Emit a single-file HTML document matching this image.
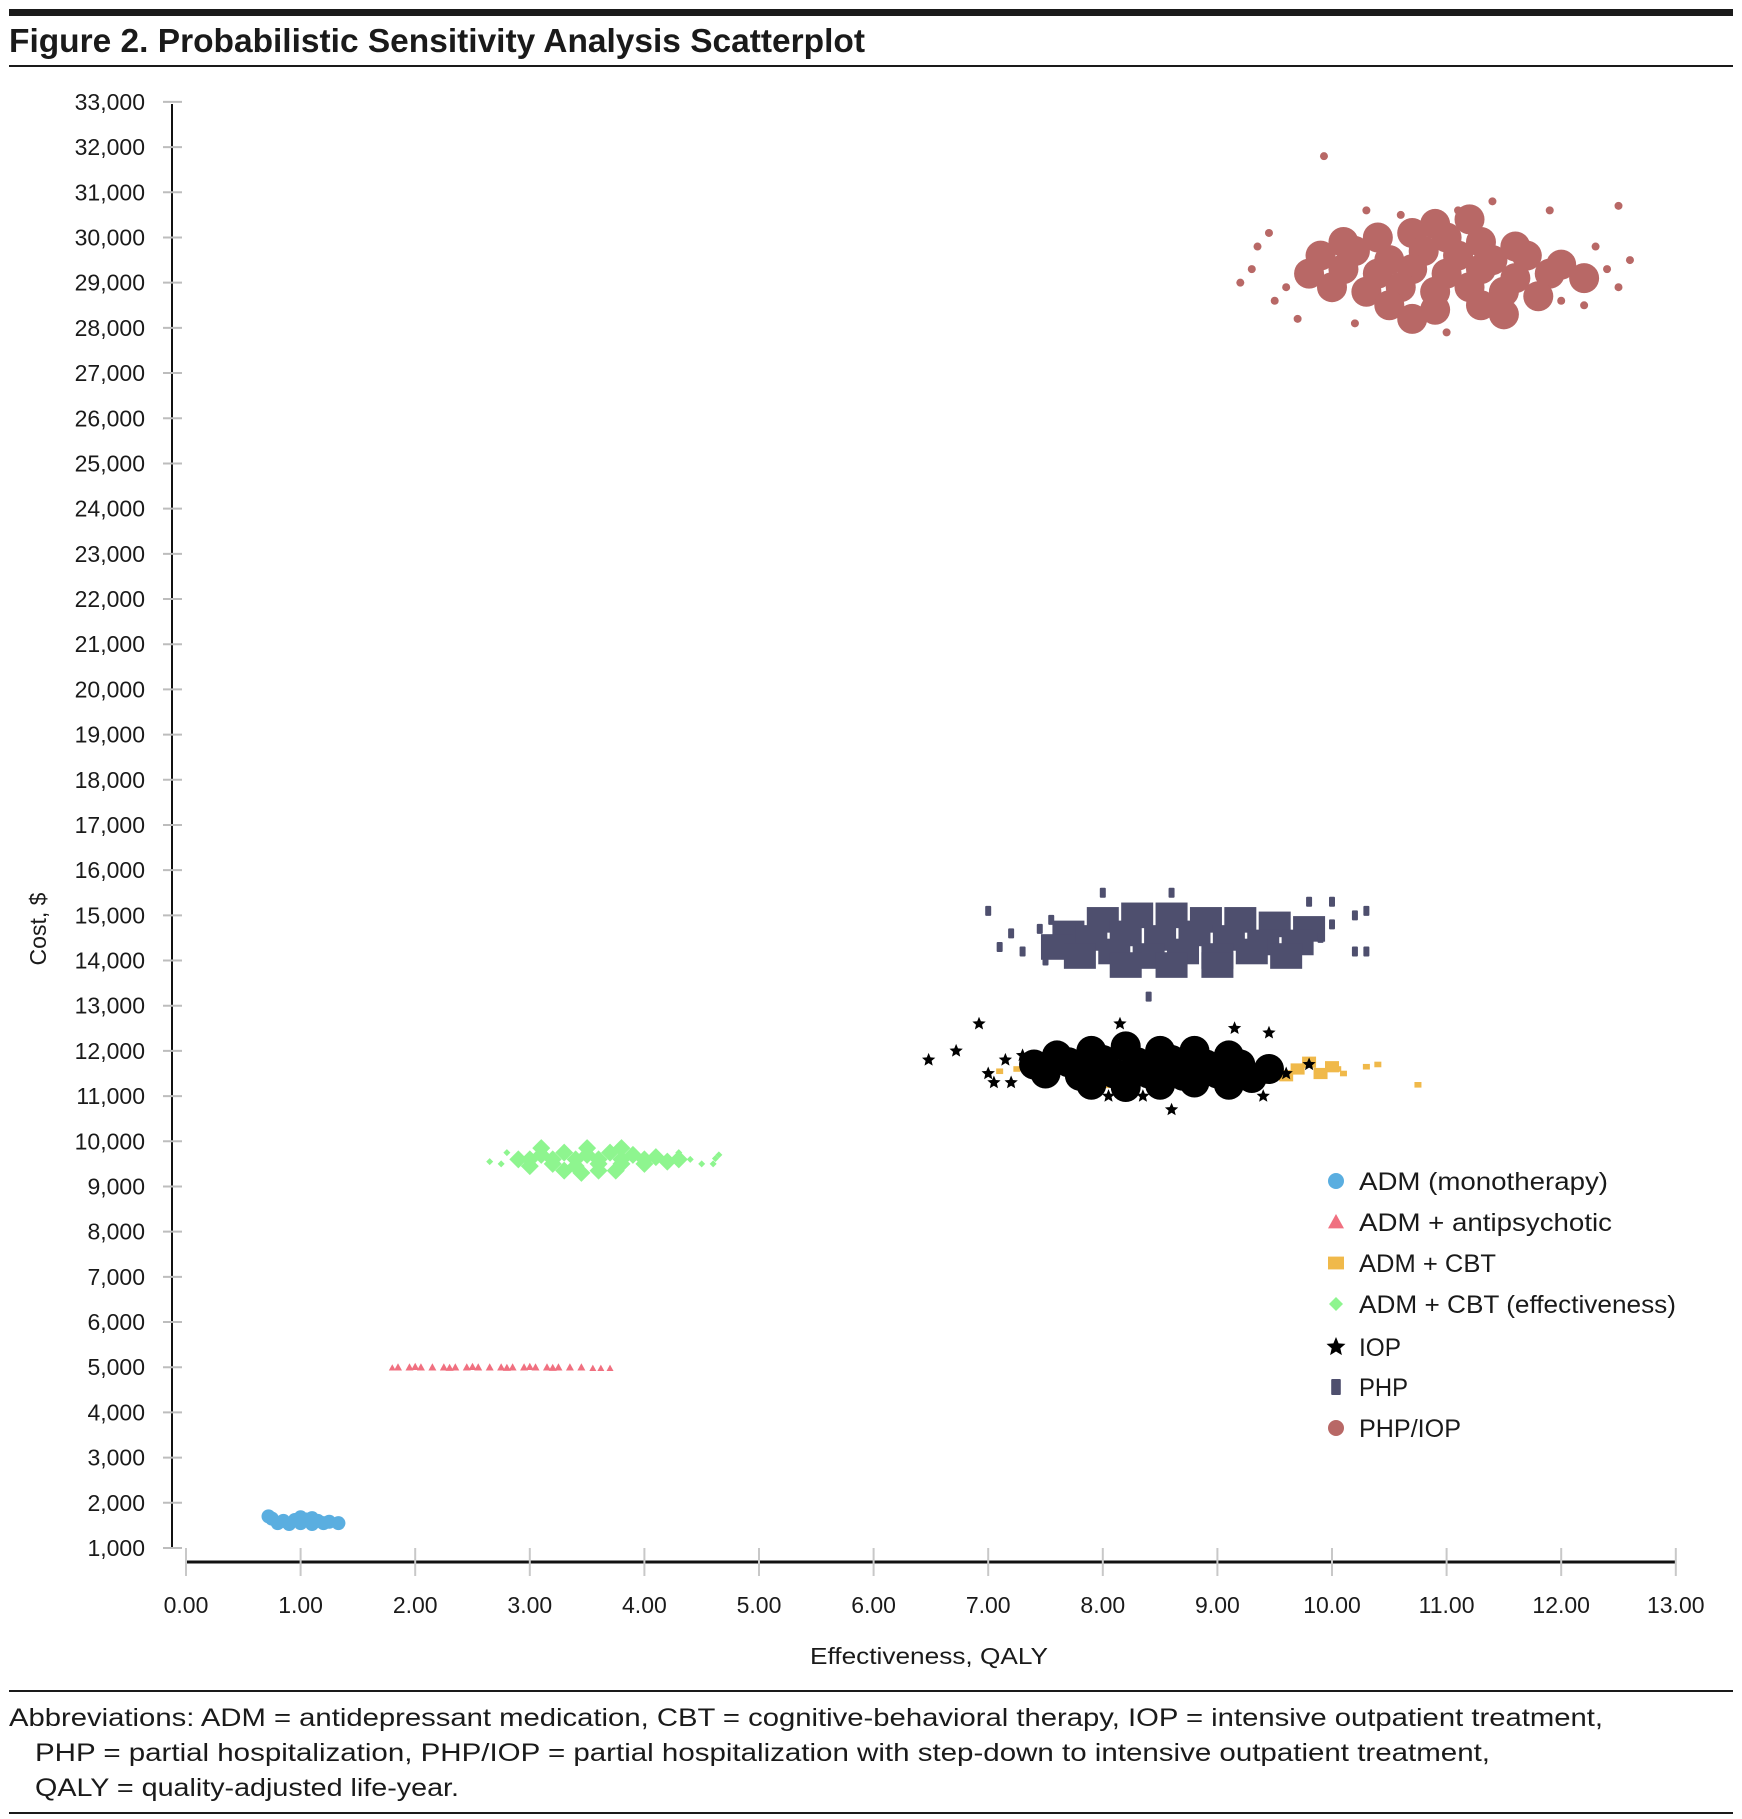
<!DOCTYPE html>
<html><head><meta charset="utf-8"><style>
html,body{margin:0;padding:0;background:#fff;}
svg{display:block;font-family:"Liberation Sans",sans-serif;}
</style></head><body>
<svg id="chart" width="1742" height="1819" viewBox="0 0 1742 1819" xmlns="http://www.w3.org/2000/svg">
<rect x="9" y="9" width="1724" height="7" fill="#1a1a1a"/>
<text x="9" y="52" font-size="33" font-weight="bold" fill="#1a1a1a" textLength="856" lengthAdjust="spacingAndGlyphs">Figure 2. Probabilistic Sensitivity Analysis Scatterplot</text>
<rect x="9" y="65" width="1724" height="2" fill="#1a1a1a"/>
<g id="axes"></g>
<g id="marks"></g>
<g id="legend"></g>
<text x="38" y="929" font-size="23" fill="#1a1a1a" text-anchor="middle" transform="rotate(-90 38 929)" dy="8">Cost, $</text>
<text x="929" y="1664" font-size="23" fill="#1a1a1a" text-anchor="middle" textLength="238" lengthAdjust="spacingAndGlyphs">Effectiveness, QALY</text>
<rect x="9" y="1690" width="1724" height="2" fill="#1a1a1a"/>
<g font-size="25" fill="#1a1a1a">
<text x="9" y="1726" textLength="1594" lengthAdjust="spacingAndGlyphs">Abbreviations: ADM = antidepressant medication, CBT = cognitive-behavioral therapy, IOP = intensive outpatient treatment,</text>
<text x="35" y="1761" textLength="1455" lengthAdjust="spacingAndGlyphs">PHP = partial hospitalization, PHP/IOP = partial hospitalization with step-down to intensive outpatient treatment,</text>
<text x="35" y="1796" textLength="424" lengthAdjust="spacingAndGlyphs">QALY = quality-adjusted life-year.</text>
</g>
<rect x="9" y="1812" width="1724" height="2" fill="#1a1a1a"/>
</svg>
<script>
const xTicks = [0,1,2,3,4,5,6,7,8,9,10,11,12,13];
const xTickLabels = ["0.00","1.00","2.00","3.00","4.00","5.00","6.00","7.00","8.00","9.00","10.00","11.00","12.00","13.00"];
const yTicks = [1,2,3,4,5,6,7,8,9,10,11,12,13,14,15,16,17,18,19,20,21,22,23,24,25,26,27,28,29,30,31,32,33];
const yTickLabels = ["1,000","2,000","3,000","4,000","5,000","6,000","7,000","8,000","9,000","10,000","11,000","12,000","13,000","14,000","15,000","16,000","17,000","18,000","19,000","20,000","21,000","22,000","23,000","24,000","25,000","26,000","27,000","28,000","29,000","30,000","31,000","32,000","33,000"];
const seriesNames = ["ADM (monotherapy)","ADM + antipsychotic","ADM + CBT","ADM + CBT (effectiveness)","IOP","PHP","PHP/IOP"];
// values: [QALY, cost in thousands $]
const admCore = [[0.75,1.65],[0.85,1.6],[0.95,1.62],[1.05,1.63],[1.15,1.6],[1.25,1.58],[1.33,1.55],[0.8,1.55],[0.9,1.53],[1.0,1.55],[1.1,1.53],[1.2,1.55],[0.72,1.7],[1.0,1.68],[1.1,1.66]];
const antiCore = [[1.85,5.0],[1.95,5.0],[2.05,5.0],[2.15,5.0],[2.25,5.0],[2.35,5.0],[2.45,5.0],[2.55,5.0],[2.65,5.0],[2.75,5.0],[2.85,5.0],[2.95,5.0],[3.05,5.0],[3.15,5.0],[3.25,5.0],[3.35,5.0],[3.45,5.0],[2.0,5.01],[2.5,5.01],[3.0,5.01],[2.3,4.99],[2.8,4.99],[3.2,4.99]];
const antiOut = [[3.55,4.98],[3.62,4.98],[3.7,4.98],[1.8,4.99]];
const cbtCore = [[9.3,11.6],[9.5,11.65],[9.7,11.6],[9.9,11.5],[9.6,11.45],[9.4,11.4],[10.0,11.65],[9.8,11.75],[9.2,11.35],[8.8,11.4],[8.0,11.3]];
const cbtOut = [[10.1,11.5],[10.3,11.65],[10.4,11.7],[10.75,11.25],[7.1,11.55],[7.25,11.6],[9.1,11.25],[10.05,11.6]];
const effCore = [[2.9,9.6],[3.1,9.7],[3.3,9.75],[3.5,9.7],[3.7,9.75],[3.9,9.7],[4.1,9.65],[3.0,9.45],[3.2,9.5],[3.4,9.45],[3.6,9.5],[3.8,9.5],[4.0,9.5],[4.2,9.55],[3.3,9.35],[3.6,9.35],[3.0,9.6],[3.2,9.6],[3.4,9.6],[3.6,9.6],[3.8,9.6],[4.0,9.6],[4.3,9.6],[3.5,9.85],[3.8,9.85],[3.1,9.85],[3.45,9.3],[3.75,9.35]];
const effOut = [[2.65,9.55],[2.75,9.5],[4.4,9.6],[4.5,9.5],[4.65,9.7],[4.6,9.5],[2.8,9.75],[4.3,9.75],[4.62,9.62]];
const iopCore = [[7.6,11.9],[7.9,12.0],[8.2,12.1],[8.5,12.0],[8.8,12.0],[9.1,11.9],[7.4,11.7],[7.7,11.75],[8.0,11.8],[8.3,11.75],[8.6,11.8],[8.9,11.7],[9.2,11.7],[9.45,11.6],[7.5,11.5],[7.8,11.45],[8.1,11.5],[8.4,11.5],[8.7,11.45],[9.0,11.5],[9.3,11.4],[7.9,11.25],[8.2,11.2],[8.5,11.25],[8.8,11.3],[9.1,11.25]];
const iopOut = [[6.48,11.8],[6.72,12.0],[6.92,12.6],[7.0,11.5],[7.05,11.3],[7.2,11.3],[7.3,11.9],[8.15,12.6],[8.6,10.7],[9.15,12.5],[9.45,12.4],[9.4,11.0],[9.6,11.5],[8.05,11.0],[8.35,11.0],[9.8,11.7],[7.15,11.8]];
const phpCore = [[7.7,14.6],[8.0,14.9],[8.3,15.0],[8.6,15.0],[8.9,14.9],[9.2,14.9],[9.5,14.8],[9.8,14.7],[7.6,14.3],[7.9,14.5],[8.2,14.6],[8.5,14.5],[8.8,14.6],[9.1,14.5],[9.4,14.4],[9.7,14.4],[7.8,14.1],[8.1,14.2],[8.4,14.1],[8.7,14.2],[9.0,14.1],[9.3,14.2],[9.6,14.1],[8.2,13.9],[8.6,13.9],[9.0,13.9]];
const phpOut = [[7.0,15.1],[7.2,14.6],[7.3,14.2],[7.1,14.3],[7.45,14.7],[8.0,15.5],[8.6,15.5],[8.4,13.2],[10.0,15.3],[10.2,15.0],[10.3,15.1],[10.2,14.2],[10.3,14.2],[9.9,14.5],[7.5,14.0],[9.8,15.3],[10.0,14.8],[7.55,14.9]];
const phpiopCore = [[10.1,29.9],[10.4,30.0],[10.7,30.1],[11.0,30.0],[11.3,29.9],[11.6,29.8],[10.9,30.3],[11.2,30.4],[9.9,29.6],[10.2,29.7],[10.5,29.5],[10.8,29.7],[11.1,29.6],[11.4,29.5],[11.7,29.6],[12.0,29.4],[9.8,29.2],[10.1,29.3],[10.4,29.2],[10.7,29.3],[11.0,29.2],[11.3,29.3],[11.6,29.1],[11.9,29.2],[12.2,29.1],[10.0,28.9],[10.3,28.8],[10.6,28.9],[10.9,28.8],[11.2,28.9],[11.5,28.8],[11.8,28.7],[10.5,28.5],[10.9,28.4],[11.3,28.5],[10.7,28.2],[11.5,28.3]];
const phpiopOut = [[9.93,31.8],[9.3,29.3],[9.35,29.8],[9.5,28.6],[9.7,28.2],[10.3,30.6],[10.6,30.5],[11.9,30.6],[12.0,28.6],[12.5,30.7],[12.6,29.5],[12.5,28.9],[9.2,29.0],[11.0,27.9],[11.4,30.8],[12.3,29.8],[9.6,28.9],[10.2,28.1],[11.1,30.6],[12.4,29.3],[9.45,30.1],[12.2,28.5]];

const NS = "http://www.w3.org/2000/svg";
function xs(v){ return 186 + v*114.6; }
function ys(c){ return 1548 - (c-1)*45.19; }
function mk(tag, attrs, parent){
  const e = document.createElementNS(NS, tag);
  for (const k in attrs) e.setAttribute(k, attrs[k]);
  parent.appendChild(e); return e;
}
const axes = document.getElementById('axes');
const marks = document.getElementById('marks');
const legend = document.getElementById('legend');

const yl = mk('line',{x1:172,y1:104,x2:172,y2:1549,stroke:'#111','stroke-width':2},axes);


yTicks.forEach((t,i)=>{
  const y = ys(t);
  const tk = mk('line',{x1:163,y1:y,x2:182,y2:y,stroke:'#bdbdbd','stroke-width':2},axes);
  
  
  const tx = mk('text',{x:145,y:y+8,'font-size':23,fill:'#1a1a1a','text-anchor':'end'},axes);
  tx.textContent = yTickLabels[i];
  
  
});
const xl = mk('line',{x1:186,y1:1562,x2:1676,y2:1562,stroke:'#111','stroke-width':3},axes);


xTicks.forEach((t,i)=>{
  const x = xs(t);
  const tk = mk('line',{x1:x,y1:1548,x2:x,y2:1576,stroke:'#c8c8c8','stroke-width':2},axes);
  
  
  const tx = mk('text',{x:x,y:1613,'font-size':23,fill:'#1a1a1a','text-anchor':'middle'},axes);
  tx.textContent = xTickLabels[i];
  
  
});

function starPts(cx,cy,r){
  let p=[];
  for(let i=0;i<10;i++){
    const a = -Math.PI/2 + i*Math.PI/5;
    const rr = i%2===0 ? r : r*0.45;
    p.push((cx+rr*Math.cos(a)).toFixed(1)+','+(cy+rr*Math.sin(a)).toFixed(1));
  }
  return p.join(' ');
}
function marker(shape, cx, cy, s, color, parent){
  if(shape==='circle') return mk('circle',{cx:cx,cy:cy,r:s,fill:color},parent);
  if(shape==='square') return mk('rect',{x:cx-s,y:cy-s*0.8,width:s*2,height:s*1.6,fill:color},parent);
  if(shape==='tall') return mk('rect',{x:cx-s*0.6,y:cy-s,width:s*1.2,height:s*2,rx:1,fill:color},parent);
  if(shape==='triangle') return mk('polygon',{points:`${cx},${cy-s} ${cx+s},${cy+s*0.8} ${cx-s},${cy+s*0.8}`,fill:color},parent);
  if(shape==='diamond') return mk('polygon',{points:`${cx},${cy-s} ${cx+s},${cy} ${cx},${cy+s} ${cx-s},${cy}`,fill:color},parent);
  if(shape==='star') return mk('polygon',{points:starPts(cx,cy,s),fill:color},parent);
}
function drawSeries(name, pts, shape, size, color){
  const g = mk('g',{},marks);
  
  
  pts.forEach(p=>{
    const m = marker(shape, xs(p[0]), ys(p[1]), size, color, g);
    
    
  });
}
const C_ADM='#5aaee0', C_ANTI='#f07080', C_CBT='#f0b94a', C_EFF='#8ef58f', C_IOP='#000000', C_PHP='#4e4f6e', C_PI='#b86866';
drawSeries('adm-mono-series', admCore, 'circle', 7, C_ADM);
drawSeries('adm-antipsychotic-series', antiCore, 'triangle', 4, C_ANTI);
drawSeries('adm-antipsychotic-series', antiOut, 'triangle', 3.5, C_ANTI);
drawSeries('adm-cbt-series', cbtCore, 'square', 7, C_CBT);
drawSeries('adm-cbt-series', cbtOut, 'square', 3.5, C_CBT);
drawSeries('adm-cbt-eff-series', effCore, 'diamond', 9, C_EFF);
drawSeries('adm-cbt-eff-series', effOut, 'diamond', 3.5, C_EFF);
drawSeries('iop-series', iopCore, 'circle', 15, C_IOP);
drawSeries('iop-series', iopOut, 'star', 7, C_IOP);
drawSeries('php-series', phpCore, 'square', 16, C_PHP);
drawSeries('php-series', phpOut, 'tall', 5, C_PHP);
drawSeries('php-iop-series', phpiopCore, 'circle', 15, C_PI);
drawSeries('php-iop-series', phpiopOut, 'circle', 4, C_PI);

const legShapes = ['circle','triangle','square','diamond','star','tall','circle'];
const legColors = [C_ADM,C_ANTI,C_CBT,C_EFF,C_IOP,C_PHP,C_PI];
const legSizes = [8,8,8,7,10,8,8];
const legY = [1181,1222,1263,1304,1347,1387,1428];
const legW = [249,253,137,317,42,49,102];
seriesNames.forEach((n,i)=>{
  const g = mk('g',{},legend);
  
  
  const m = marker(legShapes[i],1336,legY[i],legSizes[i],legColors[i],g);
  
  
  const t = mk('text',{x:1359,y:legY[i]+9,'font-size':25,fill:'#1a1a1a',textLength:legW[i],lengthAdjust:'spacingAndGlyphs'},g);
  t.textContent = n;
  
  
});
</script>
</body></html>
